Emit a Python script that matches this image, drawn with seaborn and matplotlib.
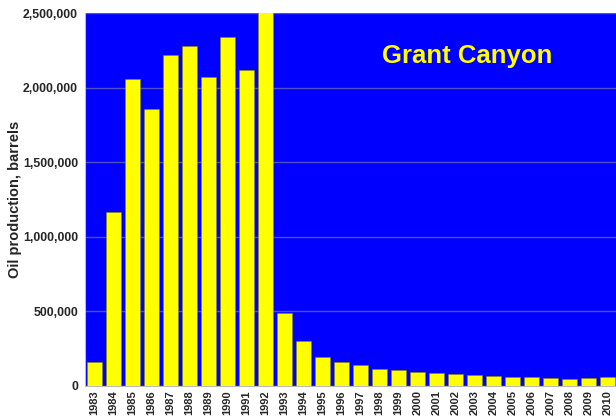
import numpy as np
import pandas as pd
import matplotlib
matplotlib.use("Agg")
import matplotlib.pyplot as plt
import seaborn as sns
from matplotlib.ticker import FuncFormatter

years = [str(y) for y in range(1983, 2011)]
production = [
    160000, 1165000, 2058000, 1857000, 2218000, 2277000, 2071000, 2339000,
    2118000, 2700000, 487000, 302000, 196000, 159000, 139000, 116000,
    105000, 92000, 85000, 78000, 72000, 67000, 62000, 62000,
    56000, 47000, 54000, 62000,
]

df = pd.DataFrame({"year": years, "barrels": production})

sns.set_style("white")
plt.rcParams["font.family"] = ["Liberation Sans", "DejaVu Sans"]

fig = plt.figure(figsize=(6.16, 4.2), dpi=100)
ax = fig.add_axes([0.138, 0.081, 0.864, 0.888])
ax.set_facecolor("#0000ff")

sns.barplot(data=df, x="year", y="barrels", color="#ffff00", saturation=1,
            width=0.8, edgecolor="#888800", linewidth=0.4, ax=ax, zorder=3)

ax.set_ylim(0, 2500000)
ax.set_yticks(np.arange(0, 2500001, 500000))
ax.yaxis.set_major_formatter(FuncFormatter(lambda v, p: f"{int(v):,}"))
ax.grid(axis="y", color="#5050c8", linewidth=1.0, zorder=1)
ax.set_axisbelow(True)

ax.set_xlabel("")
ax.set_ylabel("Oil production, barrels", fontsize=10.5, fontweight="bold")
ax.yaxis.set_label_coords(-0.118, 0.5)
plt.xticks(rotation=90)
ax.tick_params(axis="x", labelsize=8, length=0, pad=3)
ax.tick_params(axis="y", labelsize=8.8, length=3, color="#aaaaaa", pad=2)
for lbl in ax.get_xticklabels() + ax.get_yticklabels():
    lbl.set_fontweight("bold")
ax.set_xticks(np.arange(-0.5, 28, 1), minor=True)
ax.tick_params(axis="x", which="minor", length=3, color="#aaaaaa")

for s in ["top", "right"]:
    ax.spines[s].set_visible(False)
ax.spines["left"].set_color("#bbbbbb")
ax.spines["bottom"].set_color("#bbbbbb")

ax.text(0.718, 0.885, "Grant Canyon", transform=ax.transAxes, ha="center",
        va="center", color="#ffff00", fontsize=18.5, fontweight="bold")

fig.savefig("out.png", dpi=100)
